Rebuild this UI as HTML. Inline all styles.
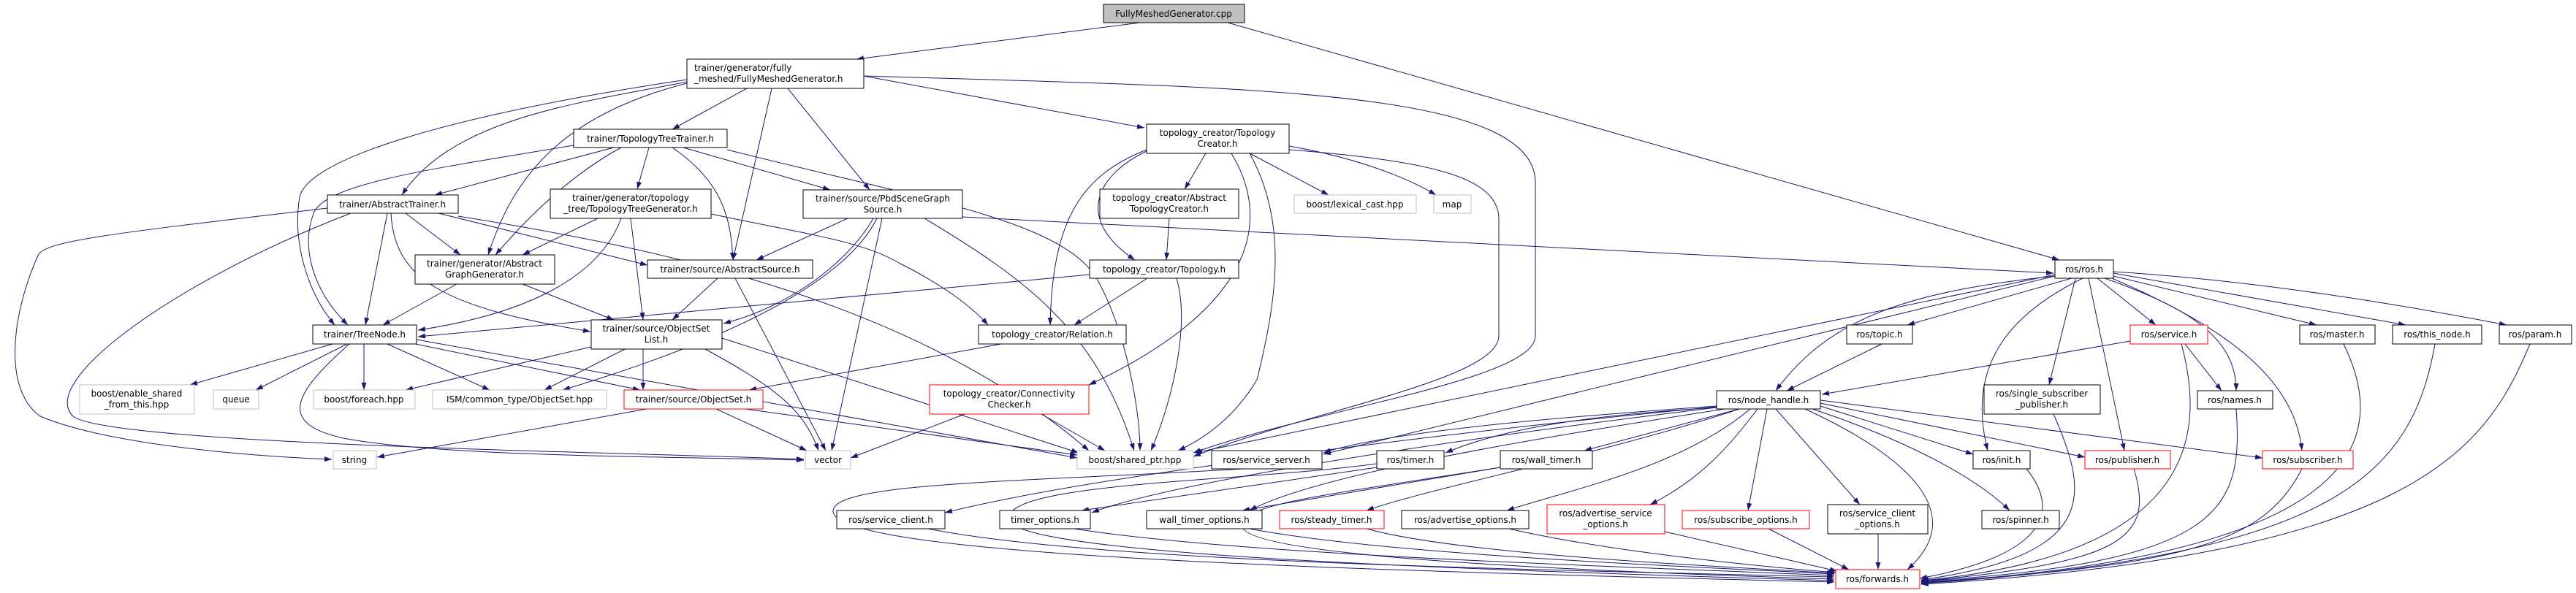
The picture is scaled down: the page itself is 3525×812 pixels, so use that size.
<!DOCTYPE html>
<html><head><meta charset="utf-8"><style>
html,body{margin:0;padding:0;background:#fff;}
svg{display:block;}
text{font-family:"DejaVu Sans","Liberation Sans",sans-serif;font-size:12px;fill:#000;}
.n{fill:#fff;stroke:#000;stroke-width:1;}
.g{fill:#fff;stroke:#bfbfbf;stroke-width:1;}
.r{fill:#fff;stroke:#ff0000;stroke-width:1;}
.e{fill:none;stroke:#191970;stroke-width:1;marker-end:url(#a);}
</style></head><body>
<svg width="3525" height="812" viewBox="0 0 3525 812" xmlns="http://www.w3.org/2000/svg">
<defs><marker id="a" markerUnits="userSpaceOnUse" markerWidth="11" markerHeight="8" refX="10" refY="3.5" orient="auto"><path d="M0,0 L10,3.5 L0,7 z" fill="#191970"/></marker></defs>
<g>
<!-- cpp -->
<path class="e" d="M1560,31 L1172,81"/>
<path class="e" d="M1680,31 L2818,356"/>
<!-- FM -->
<path class="e" d="M1022,121 L920,177"/>
<path class="e" d="M940,112 C800,140 620,160 550,267"/>
<path class="e" d="M940,114 C760,160 700,250 668,349"/>
<path class="e" d="M940,109 C600,160 420,220 410,270 C400,330 420,400 458,445"/>
<path class="e" d="M1056,121 L1003,356"/>
<path class="e" d="M1078,121 L1190,260"/>
<path class="e" d="M1182,104 L1566,175"/>
<path class="e" d="M1182,104 C1700,120 2101,120 2101,250 L2101,460 C2101,520 1800,560 1633,620"/>
<!-- TTT -->
<path class="e" d="M840,202 L595,267"/>
<path class="e" d="M785,199 C600,230 450,250 430,290 C410,340 430,400 476,445"/>
<path class="e" d="M888,202 L872,259"/>
<path class="e" d="M850,202 C780,240 720,300 678,349"/>
<path class="e" d="M920,202 C990,250 1000,300 1003,356"/>
<path class="e" d="M935,202 L1136,260"/>
<path class="e" d="M995,205 C1250,270 1450,300 1500,380 C1540,450 1560,560 1560,617"/>
<!-- AT -->
<path class="e" d="M555,292 L630,349"/>
<path class="e" d="M530,292 L500,445"/>
<path class="e" d="M535,292 C540,380 600,420 808,454"/>
<path class="e" d="M600,292 L886,363"/>
<path class="e" d="M448,285 C150,320 60,330 52,350 C20,420 0,530 55,570 C150,610 350,625 454,629"/>
<path class="e" d="M480,292 C250,380 50,520 100,570 C150,610 900,620 1100,629"/>
<path class="e" d="M627,296 C900,340 1250,410 1490,617"/>
<!-- TTG -->
<path class="e" d="M818,299 L715,349"/>
<path class="e" d="M850,299 C820,380 720,430 572,452"/>
<path class="e" d="M863,299 L880,438"/>
<path class="e" d="M973,293 C1100,320 1180,330 1230,360 C1290,390 1330,420 1352,445"/>
<!-- AGG -->
<path class="e" d="M625,389 L524,445"/>
<path class="e" d="M715,389 L840,438"/>
<!-- AS -->
<path class="e" d="M982,381 L920,438"/>
<path class="e" d="M1006,381 L1130,617"/>
<!-- PBD -->
<path class="e" d="M1160,299 L1035,356"/>
<path class="e" d="M1195,299 C1160,360 1080,420 990,443"/>
<path class="e" d="M1200,299 C1150,400 950,480 770,534"/>
<path class="e" d="M1207,299 L1138,617"/>
<path class="e" d="M1265,299 C1400,380 1500,450 1552,617"/>
<path class="e" d="M1317,297 L2810,374"/>
<!-- TC -->
<path class="e" d="M1650,210 L1621,259"/>
<path class="e" d="M1569,207 C1500,240 1470,300 1553,356"/>
<path class="e" d="M1569,205 C1480,240 1440,300 1437,445"/>
<path class="e" d="M1685,210 C1740,300 1720,420 1490,527"/>
<path class="e" d="M1710,210 C1760,300 1750,400 1720,520 C1690,570 1650,600 1612,617"/>
<path class="e" d="M1710,210 L1818,267"/>
<path class="e" d="M1764,200 C1850,215 1920,240 1965,267"/>
<path class="e" d="M1764,205 C1950,220 2051,240 2051,300 L2051,460 C2050,520 1800,560 1633,625"/>
<!-- ATC / TOP -->
<path class="e" d="M1600,299 L1596,356"/>
<path class="e" d="M1491,376 L572,461"/>
<path class="e" d="M1570,381 L1470,445"/>
<path class="e" d="M1610,381 C1630,450 1600,560 1575,617"/>
<path class="e" d="M1370,471 L1025,534"/>
<path class="e" d="M1320,567 L1164,627"/>
<path class="e" d="M1425,567 L1512,617"/>
<!-- TN -->
<path class="e" d="M455,471 L260,527"/>
<path class="e" d="M475,471 L350,534"/>
<path class="e" d="M498,471 L498,534"/>
<path class="e" d="M530,471 L670,534"/>
<path class="e" d="M568,471 L876,534"/>
<path class="e" d="M570,465 L1474,627"/>
<path class="e" d="M478,471 C400,540 380,580 470,600 C600,625 900,625 1100,630"/>
<!-- OSL -->
<path class="e" d="M809,475 L555,534"/>
<path class="e" d="M855,478 L745,534"/>
<path class="e" d="M880,478 L880,534"/>
<path class="e" d="M965,478 C1060,530 1100,560 1120,617"/>
<path class="e" d="M988,463 L1476,620"/>
<path class="e" d="M885,560 L516,626"/>
<path class="e" d="M980,560 L1104,617"/>
<path class="e" d="M1020,560 L1474,623"/>
<!-- ROS -->
<path class="e" d="M2812,378 C2600,400 2500,440 2430,535"/>
<path class="e" d="M2835,381 L2610,445"/>
<path class="e" d="M2870,381 L2950,445"/>
<path class="e" d="M2892,378 L3170,445"/>
<path class="e" d="M2892,374 L3292,445"/>
<path class="e" d="M2892,372 C3100,385 3300,420 3430,445"/>
<path class="e" d="M2840,381 L2804,527"/>
<path class="e" d="M2880,381 C2990,420 3060,460 3060,535"/>
<path class="e" d="M2850,381 C2750,430 2690,500 2720,617"/>
<path class="e" d="M2858,381 L2907,617"/>
<path class="e" d="M2890,381 C3050,450 3140,520 3150,617"/>
<path class="e" d="M2812,378 L1811,622"/>
<path class="e" d="M2812,376 L1635,620"/>
<path class="e" d="M2575,471 L2445,535"/>
<path class="e" d="M2915,467 L2493,540"/>
<path class="e" d="M2990,471 L3040,535"/>
<!-- NH -->
<path class="e" d="M2349,558 C2150,570 2050,590 1978,620"/>
<path class="e" d="M2380,560 L2168,617"/>
<path class="e" d="M2349,556 C2150,570 1900,590 1811,620"/>
<path class="e" d="M2349,557 C2000,590 1500,650 1293,702"/>
<path class="e" d="M2349,558 C2000,600 1600,660 1494,702"/>
<path class="e" d="M2360,560 C2100,600 1800,650 1710,699"/>
<path class="e" d="M2380,560 C2200,620 1950,670 1870,699"/>
<path class="e" d="M2395,560 C2300,640 2150,670 2062,699"/>
<path class="e" d="M2405,560 C2360,620 2320,660 2258,691"/>
<path class="e" d="M2418,560 L2392,699"/>
<path class="e" d="M2430,560 L2545,691"/>
<path class="e" d="M2470,560 C2600,620 2700,700 2610,780"/>
<path class="e" d="M2491,556 L2700,622"/>
<path class="e" d="M2480,560 C2600,600 2700,650 2750,699"/>
<path class="e" d="M2491,552 L2853,626"/>
<path class="e" d="M2491,548 L3096,627"/>
<path class="e" d="M1884,640 L1480,699"/>
<path class="e" d="M2053,640 L1700,699"/>
<!-- to forwards -->
<path class="e" d="M1700,642 C1400,660 1140,660 1140,700 C1140,760 1800,780 2510,797"/>
<path class="e" d="M1884,635 C1700,660 1380,660 1380,710 C1380,760 2000,780 2510,795"/>
<path class="e" d="M2053,640 C1800,680 1700,690 1700,720 C1700,760 2100,780 2510,793"/>
<path class="e" d="M1270,724 C1500,770 2100,780 2510,790"/>
<path class="e" d="M1470,724 C1700,760 2200,775 2510,788"/>
<path class="e" d="M1710,724 C1900,760 2300,775 2510,786"/>
<path class="e" d="M1870,724 C2000,760 2350,775 2510,785"/>
<path class="e" d="M2065,724 C2200,755 2400,775 2512,784"/>
<path class="e" d="M2278,728 L2514,782"/>
<path class="e" d="M2420,724 L2530,780"/>
<path class="e" d="M2570,731 L2570,780"/>
<path class="e" d="M2773,642 C2820,700 2800,760 2627,792"/>
<path class="e" d="M2810,567 C2860,680 2870,760 2629,794"/>
<path class="e" d="M2920,642 C2950,740 2900,770 2629,796"/>
<path class="e" d="M2985,471 C3020,600 3000,760 2629,795"/>
<path class="e" d="M3060,560 C3070,700 3040,770 2629,796"/>
<path class="e" d="M3150,642 C3100,740 3000,775 2629,797"/>
<path class="e" d="M3207,471 C3270,600 3240,760 2629,798"/>
<path class="e" d="M3332,471 C3300,650 3200,760 2629,799"/>
<path class="e" d="M3462,471 C3400,620 3300,760 2629,800"/>
</g>
<g>
<rect x="1510" y="6" width="193" height="25" fill="#bfbfbf" stroke="#000"/><text x="1606" y="23" text-anchor="middle">FullyMeshedGenerator.cpp</text>
<rect class="n" x="940" y="81" width="242" height="40"/><text x="950" y="97">trainer/generator/fully</text><text x="950" y="112">_meshed/FullyMeshedGenerator.h</text>
<rect class="n" x="785" y="177" width="210" height="25"/><text x="890" y="194" text-anchor="middle">trainer/TopologyTreeTrainer.h</text>
<rect class="n" x="448" y="267" width="179" height="25"/><text x="537" y="284" text-anchor="middle">trainer/AbstractTrainer.h</text>
<rect class="n" x="753" y="259" width="220" height="40"/><text x="863" y="275" text-anchor="middle">trainer/generator/topology</text><text x="863" y="290" text-anchor="middle">_tree/TopologyTreeGenerator.h</text>
<rect class="n" x="568" y="349" width="191" height="40"/><text x="663" y="365" text-anchor="middle">trainer/generator/Abstract</text><text x="663" y="380" text-anchor="middle">GraphGenerator.h</text>
<rect class="n" x="886" y="356" width="226" height="25"/><text x="999" y="373" text-anchor="middle">trainer/source/AbstractSource.h</text>
<rect class="n" x="1099" y="260" width="218" height="39"/><text x="1208" y="276" text-anchor="middle">trainer/source/PbdSceneGraph</text><text x="1208" y="291" text-anchor="middle">Source.h</text>
<rect class="n" x="1569" y="170" width="195" height="40"/><text x="1666" y="186" text-anchor="middle">topology_creator/Topology</text><text x="1666" y="201" text-anchor="middle">Creator.h</text>
<rect class="n" x="1505" y="259" width="190" height="40"/><text x="1600" y="275" text-anchor="middle">topology_creator/Abstract</text><text x="1600" y="290" text-anchor="middle">TopologyCreator.h</text>
<rect class="n" x="1491" y="356" width="204" height="25"/><text x="1593" y="373" text-anchor="middle">topology_creator/Topology.h</text>
<rect class="g" x="1771" y="267" width="167" height="25"/><text x="1854" y="284" text-anchor="middle">boost/lexical_cast.hpp</text>
<rect class="g" x="1962" y="267" width="51" height="25"/><text x="1987" y="284" text-anchor="middle">map</text>
<rect class="n" x="2812" y="356" width="80" height="25"/><text x="2852" y="373" text-anchor="middle">ros/ros.h</text>
<rect class="n" x="428" y="445" width="142" height="26"/><text x="499" y="462" text-anchor="middle">trainer/TreeNode.h</text>
<rect class="n" x="809" y="438" width="179" height="40"/><text x="898" y="454" text-anchor="middle">trainer/source/ObjectSet</text><text x="898" y="469" text-anchor="middle">List.h</text>
<rect class="n" x="1339" y="445" width="202" height="26"/><text x="1440" y="462" text-anchor="middle">topology_creator/Relation.h</text>
<rect class="g" x="109" y="527" width="157" height="40"/><text x="187" y="543" text-anchor="middle">boost/enable_shared</text><text x="187" y="558" text-anchor="middle">_from_this.hpp</text>
<rect class="g" x="292" y="534" width="62" height="26"/><text x="323" y="551" text-anchor="middle">queue</text>
<rect class="g" x="429" y="534" width="139" height="26"/><text x="498" y="551" text-anchor="middle">boost/foreach.hpp</text>
<rect class="g" x="592" y="534" width="238" height="26"/><text x="711" y="551" text-anchor="middle">ISM/common_type/ObjectSet.hpp</text>
<rect class="r" x="854" y="534" width="190" height="26"/><text x="949" y="551" text-anchor="middle">trainer/source/ObjectSet.h</text>
<rect class="r" x="1272" y="527" width="218" height="40"/><text x="1381" y="543" text-anchor="middle">topology_creator/Connectivity</text><text x="1381" y="558" text-anchor="middle">Checker.h</text>
<rect class="g" x="456" y="617" width="59" height="25"/><text x="485" y="634" text-anchor="middle">string</text>
<rect class="g" x="1102" y="617" width="62" height="25"/><text x="1133" y="634" text-anchor="middle">vector</text>
<rect class="g" x="1474" y="617" width="159" height="25"/><text x="1553" y="634" text-anchor="middle">boost/shared_ptr.hpp</text>
<rect class="n" x="1658" y="617" width="151" height="25"/><text x="1733" y="634" text-anchor="middle">ros/service_server.h</text>
<rect class="n" x="1884" y="617" width="92" height="25"/><text x="1930" y="634" text-anchor="middle">ros/timer.h</text>
<rect class="n" x="2053" y="617" width="126" height="25"/><text x="2116" y="634" text-anchor="middle">ros/wall_timer.h</text>
<rect class="n" x="2700" y="617" width="78" height="25"/><text x="2739" y="634" text-anchor="middle">ros/init.h</text>
<rect class="r" x="2853" y="617" width="117" height="25"/><text x="2911" y="634" text-anchor="middle">ros/publisher.h</text>
<rect class="r" x="3096" y="617" width="124" height="25"/><text x="3158" y="634" text-anchor="middle">ros/subscriber.h</text>
<rect class="n" x="2349" y="535" width="142" height="25"/><text x="2420" y="552" text-anchor="middle">ros/node_handle.h</text>
<rect class="n" x="2527" y="445" width="90" height="26"/><text x="2572" y="462" text-anchor="middle">ros/topic.h</text>
<rect class="r" x="2915" y="445" width="106" height="26"/><text x="2968" y="462" text-anchor="middle">ros/service.h</text>
<rect class="n" x="3147" y="445" width="103" height="26"/><text x="3198" y="462" text-anchor="middle">ros/master.h</text>
<rect class="n" x="3274" y="445" width="122" height="26"/><text x="3335" y="462" text-anchor="middle">ros/this_node.h</text>
<rect class="n" x="3420" y="445" width="99" height="26"/><text x="3469" y="462" text-anchor="middle">ros/param.h</text>
<rect class="n" x="2715" y="527" width="159" height="40"/><text x="2794" y="543" text-anchor="middle">ros/single_subscriber</text><text x="2794" y="558" text-anchor="middle">_publisher.h</text>
<rect class="n" x="3007" y="535" width="103" height="25"/><text x="3058" y="552" text-anchor="middle">ros/names.h</text>
<rect class="n" x="1145" y="699" width="148" height="25"/><text x="1219" y="716" text-anchor="middle">ros/service_client.h</text>
<rect class="n" x="1368" y="699" width="124" height="25"/><text x="1430" y="716" text-anchor="middle">timer_options.h</text>
<rect class="n" x="1569" y="699" width="158" height="25"/><text x="1648" y="716" text-anchor="middle">wall_timer_options.h</text>
<rect class="r" x="1751" y="699" width="143" height="25"/><text x="1822" y="716" text-anchor="middle">ros/steady_timer.h</text>
<rect class="n" x="1918" y="699" width="174" height="25"/><text x="2005" y="716" text-anchor="middle">ros/advertise_options.h</text>
<rect class="r" x="2117" y="691" width="161" height="40"/><text x="2197" y="707" text-anchor="middle">ros/advertise_service</text><text x="2197" y="722" text-anchor="middle">_options.h</text>
<rect class="r" x="2302" y="699" width="174" height="25"/><text x="2389" y="716" text-anchor="middle">ros/subscribe_options.h</text>
<rect class="n" x="2501" y="691" width="137" height="40"/><text x="2569" y="707" text-anchor="middle">ros/service_client</text><text x="2569" y="722" text-anchor="middle">_options.h</text>
<rect class="n" x="2712" y="699" width="106" height="25"/><text x="2765" y="716" text-anchor="middle">ros/spinner.h</text>
<rect class="r" x="2512" y="780" width="115" height="26"/><text x="2569" y="797" text-anchor="middle">ros/forwards.h</text>
</g>
</svg>
</body></html>
